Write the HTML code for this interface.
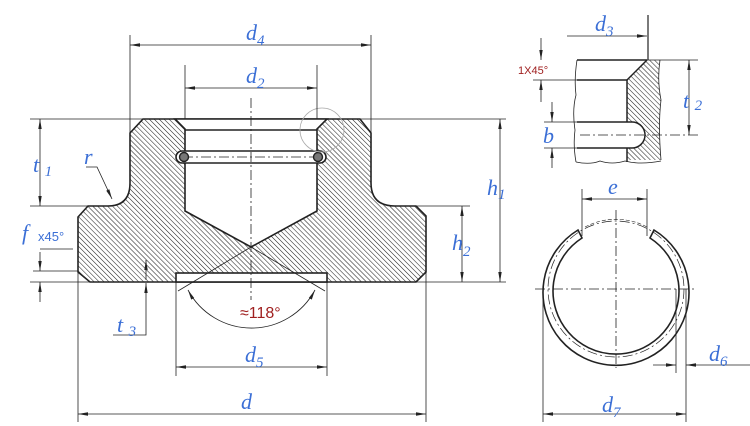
<!DOCTYPE html>
<html><head><meta charset="utf-8"><style>
html,body{margin:0;padding:0;background:#fff;}
svg{display:block;}
.l{font-family:"Liberation Serif",serif;font-style:italic;fill:#3b6fd6;font-size:22px;}
.s{font-size:15px;}
.r{font-family:"Liberation Sans",sans-serif;fill:#a02020;}
</style></head><body>
<svg width="750" height="426" viewBox="0 0 750 426" xmlns="http://www.w3.org/2000/svg">
<defs>
<pattern id="h" width="3.5" height="3.5" patternUnits="userSpaceOnUse" patternTransform="rotate(-45)">
<line x1="0" y1="0" x2="0" y2="3.5" stroke="#222" stroke-width="1.1"/>
</pattern>
<marker id="a" markerWidth="10" markerHeight="6" refX="10" refY="3" orient="auto-start-reverse" markerUnits="userSpaceOnUse">
<path d="M0,1.3 L10,3 L0,4.7Z" fill="#222"/></marker>
</defs>
<g stroke="#222" fill="none" stroke-width="0.8">
<path d="M130,133 L143,119 L360,119 L371,133 L371,183 Q371,206 395,206 L416,206 L426,216 L426,272 L416,282 L90,282 L78,272 L78,217 L88,206 L108,206 Q130,206 130,183 Z" fill="url(#h)" stroke-width="1.6"/>
<path d="M175,119 L185,129 L185,211 L251,247 L317,211 L317,129 L327,119 Z" fill="#fff" stroke-width="1.6"/>
<rect x="176" y="273" width="151" height="9" fill="#fff" stroke-width="1.6"/>
<line x1="185" y1="130" x2="317" y2="130" stroke-width="1.6"/>
<rect x="176" y="151" width="150" height="12" rx="6" fill="#fff" stroke-width="1.6"/>
<line x1="183" y1="157" x2="318" y2="157" stroke-dasharray="10,3,2,3"/>
<circle cx="184" cy="157" r="4.5" fill="#777" stroke-width="1.4"/>
<circle cx="318" cy="157" r="4.5" fill="#777" stroke-width="1.4"/>
<circle cx="322" cy="130" r="22" stroke="#aaa"/>
<line x1="251" y1="98" x2="251" y2="300" stroke-dasharray="10,3,2,3"/>
<line x1="130" y1="35" x2="130" y2="133"/><line x1="371" y1="35" x2="371" y2="133"/>
<line x1="130" y1="45" x2="371" y2="45" marker-start="url(#a)" marker-end="url(#a)"/>
<line x1="185" y1="65" x2="185" y2="119"/><line x1="317" y1="65" x2="317" y2="119"/>
<line x1="185" y1="88" x2="317" y2="88" marker-start="url(#a)" marker-end="url(#a)"/>
<line x1="30" y1="119" x2="143" y2="119"/><line x1="30" y1="206" x2="88" y2="206"/>
<line x1="40" y1="119" x2="40" y2="206" marker-start="url(#a)" marker-end="url(#a)"/>
<line x1="360" y1="119" x2="506" y2="119"/><line x1="416" y1="282" x2="506" y2="282"/>
<line x1="500" y1="119" x2="500" y2="282" marker-start="url(#a)" marker-end="url(#a)"/>
<line x1="416" y1="206" x2="470" y2="206"/>
<line x1="462" y1="206" x2="462" y2="282" marker-start="url(#a)" marker-end="url(#a)"/>
<line x1="40" y1="249" x2="73" y2="249"/><line x1="33" y1="271" x2="78" y2="271"/><line x1="30" y1="282" x2="90" y2="282"/>
<line x1="40" y1="252" x2="40" y2="271" marker-end="url(#a)"/>
<line x1="40" y1="302" x2="40" y2="282" marker-end="url(#a)"/>
<polyline points="86,167 97,167 112,199" marker-end="url(#a)"/>
<polyline points="113,335 146,335 146,283" marker-end="url(#a)"/>
<line x1="146" y1="280" x2="146" y2="260" marker-end="url(#a)"/>
<line x1="178" y1="291" x2="251" y2="247"/><line x1="325" y1="291" x2="251" y2="247"/>
<path d="M188,290 A72,72 0 0 0 315,290" marker-start="url(#a)" marker-end="url(#a)"/>
<line x1="176" y1="282" x2="176" y2="376"/><line x1="327" y1="282" x2="327" y2="376"/>
<line x1="176" y1="367" x2="327" y2="367" marker-start="url(#a)" marker-end="url(#a)"/>
<line x1="78" y1="272" x2="78" y2="422"/><line x1="426" y1="272" x2="426" y2="422"/>
<line x1="78" y1="414" x2="426" y2="414" marker-start="url(#a)" marker-end="url(#a)"/>

<path d="M627,80 L647,60 L660,60 Q657,80 661,100 Q658,125 661,160 L627,160 Z" fill="url(#h)" stroke="none"/>
<rect x="574" y="122" width="71" height="26" rx="13" fill="#fff" stroke="none"/>
<path d="M577,122 L632,122 A13,13 0 0 1 632,148 L577,148" stroke-width="1.5"/>
<line x1="577" y1="60" x2="647" y2="60" stroke-width="1.5"/>
<line x1="577" y1="80" x2="627" y2="80" stroke-width="1.5"/>
<line x1="627" y1="80" x2="647" y2="60" stroke-width="1.5"/>
<line x1="627" y1="80" x2="627" y2="122" stroke-width="1.5"/>
<line x1="627" y1="148" x2="627" y2="162" stroke-width="1.5"/>
<path d="M577,60 Q574,80 576,95 Q572,110 575,130 Q573,145 576,162" />
<path d="M576,162 Q590,165 600,161 Q612,165 625,161 Q640,165 661,161"/>
<path d="M660,60 Q657,80 661,100 Q658,125 661,160"/>
<line x1="647" y1="60" x2="698" y2="60"/>
<line x1="580" y1="135" x2="698" y2="135" stroke-dasharray="10,3,2,3"/>
<line x1="648" y1="15" x2="648" y2="60" stroke-width="1.2"/>
<line x1="567" y1="36" x2="647" y2="36" marker-end="url(#a)"/>
<line x1="541" y1="38" x2="541" y2="60" marker-end="url(#a)"/>
<line x1="541" y1="102" x2="541" y2="80" marker-end="url(#a)"/>
<line x1="533" y1="80" x2="577" y2="80"/>
<line x1="689" y1="60" x2="689" y2="135" marker-start="url(#a)" marker-end="url(#a)"/>
<line x1="544" y1="122" x2="577" y2="122"/><line x1="544" y1="148" x2="577" y2="148"/>
<line x1="552" y1="102" x2="552" y2="122" marker-end="url(#a)"/>
<line x1="552" y1="168" x2="552" y2="148" marker-end="url(#a)"/>

<path d="M578,230 A73,73 0 1 0 654,230 L650,238 A63,63 0 1 1 582,238 Z" fill="#fff" stroke-width="1.6"/>
<circle cx="616" cy="289" r="68" stroke-dasharray="10,3,2,3" stroke-width="0.7"/>
<path d="M585,227 A66,66 0 0 1 647,227" stroke-dasharray="4,2" stroke-width="0.6"/>
<line x1="535" y1="289" x2="694" y2="289" stroke-dasharray="10,3,2,3"/>
<line x1="616" y1="210" x2="616" y2="368" stroke-dasharray="10,3,2,3"/>
<line x1="582" y1="189" x2="582" y2="236"/><line x1="647" y1="189" x2="647" y2="236"/>
<line x1="582" y1="199" x2="647" y2="199" marker-start="url(#a)" marker-end="url(#a)"/>
<line x1="676" y1="289" x2="676" y2="373"/><line x1="686" y1="289" x2="686" y2="422"/>
<line x1="653" y1="365" x2="676" y2="365" marker-end="url(#a)"/>
<line x1="750" y1="365" x2="686" y2="365" marker-end="url(#a)"/>
<line x1="543" y1="289" x2="543" y2="422"/>
<line x1="543" y1="414" x2="686" y2="414" marker-start="url(#a)" marker-end="url(#a)"/>
</g>
<g class="l">
<text x="246" y="40">d<tspan class="s" dy="5">4</tspan></text>
<text x="246" y="83">d<tspan class="s" dy="5">2</tspan></text>
<text x="33" y="172">t <tspan class="s" dy="4">1</tspan></text>
<text x="84" y="164">r</text>
<text x="487" y="195">h<tspan class="s" dy="4">1</tspan></text>
<text x="452" y="250">h<tspan class="s" dy="6">2</tspan></text>
<text x="22" y="240">f</text>
<text x="117" y="332">t <tspan class="s" dy="4">3</tspan></text>
<text x="245" y="362">d<tspan class="s" dy="5">5</tspan></text>
<text x="241" y="409">d</text>
<text x="595" y="31">d<tspan class="s" dy="5">3</tspan></text>
<text x="683" y="108">t <tspan class="s" dy="2">2</tspan></text>
<text x="543" y="143">b</text>
<text x="608" y="194">e</text>
<text x="709" y="361">d<tspan class="s" dy="5">6</tspan></text>
<text x="602" y="412">d<tspan class="s" dy="5">7</tspan></text>
</g>
<text x="38" y="241" font-family="Liberation Sans,sans-serif" font-size="13" fill="#3b6fd6">x45°</text>
<text class="r" x="240" y="318" font-size="16">≈118°</text>
<text class="r" x="518" y="74" font-size="11">1X45°</text>
</svg>
</body></html>
